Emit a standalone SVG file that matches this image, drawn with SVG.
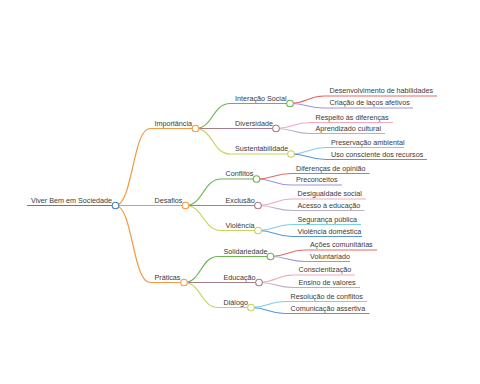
<svg xmlns="http://www.w3.org/2000/svg" width="480" height="384" viewBox="0 0 480 384">
<style>
text{font-family:"Liberation Sans",Arial,sans-serif;font-size:7.2px;fill:#3a3a3a}
path{fill:none;stroke-width:1.2}
circle{fill:#fff;stroke-width:1.1}
.b{stroke:#4a80bd}.o{stroke:#f39a45}.g{stroke:#6bb552}.m{stroke:#a67f86}.y{stroke:#c6d35d}
.r{stroke:#e46a6a}.p{stroke:#a293d9}.k{stroke:#f2a9b9}.l{stroke:#bcaec4}.c{stroke:#80cde6}.u{stroke:#5d97d3}
</style>
<rect width="480" height="384" fill="#fff"/>
<g id="connectors">
<path class="b" d="M27 205.5 L115.5 205.5"/>
<path class="o" d="M115.5 205.5 C132.75 205.5 132.75 128.5 150 128.5 L195.5 128.5"/>
<path class="o" d="M115.5 205.5 L185.5 205.5"/>
<path class="o" d="M115.5 205.5 C132.75 205.5 132.75 282.5 150 282.5 L184 282.5"/>
<path class="g" d="M195.5 128.5 C212.75 128.5 212.75 103.5 230 103.5 L290 103.5"/>
<path class="m" d="M195.5 128.5 L276 128.5"/>
<path class="y" d="M195.5 128.5 C212.75 128.5 212.75 154 230 154 L291 154"/>
<path class="r" d="M290 103.5 C307 103.5 307 96 324 96 L437 96"/>
<path class="p" d="M290 103.5 C307 103.5 307 108 324 108 L413 108"/>
<path class="k" d="M276 128.5 C293 128.5 293 122.5 310 122.5 L393 122.5"/>
<path class="l" d="M276 128.5 C293 128.5 293 133.5 310 133.5 L385 133.5"/>
<path class="c" d="M291 154 C308.5 154 308.5 147.5 326 147.5 L404 147.5"/>
<path class="u" d="M291 154 C308.5 154 308.5 159.5 326 159.5 L427 159.5"/>
<path class="g" d="M185.5 205.5 C203.25 205.5 203.25 179 221 179 L256.5 179"/>
<path class="m" d="M185.5 205.5 L258 205.5"/>
<path class="y" d="M185.5 205.5 C203.25 205.5 203.25 230.5 221 230.5 L258 230.5"/>
<path class="r" d="M256.5 179 C273.75 179 273.75 173.5 291 173.5 L369.5 173.5"/>
<path class="p" d="M256.5 179 C273.75 179 273.75 185 291 185 L342 185"/>
<path class="k" d="M258 205.5 C275 205.5 275 199 292 199 L366 199"/>
<path class="l" d="M258 205.5 C275 205.5 275 210.5 292 210.5 L364.5 210.5"/>
<path class="c" d="M258 230.5 C275 230.5 275 224.5 292 224.5 L361 224.5"/>
<path class="u" d="M258 230.5 C275 230.5 275 236.5 292 236.5 L362 236.5"/>
<path class="g" d="M184 282.5 C201 282.5 201 256.5 218 256.5 L270.5 256.5"/>
<path class="m" d="M184 282.5 L259 282.5"/>
<path class="y" d="M184 282.5 C201 282.5 201 307.5 218 307.5 L251 307.5"/>
<path class="r" d="M270.5 256.5 C287.75 256.5 287.75 250 305 250 L377 250"/>
<path class="p" d="M270.5 256.5 C287.75 256.5 287.75 261.5 305 261.5 L350 261.5"/>
<path class="k" d="M259 282.5 C276 282.5 276 275 293 275 L355 275"/>
<path class="l" d="M259 282.5 C276 282.5 276 287.5 293 287.5 L360 287.5"/>
<path class="c" d="M251 307.5 C268 307.5 268 301.5 285 301.5 L367 301.5"/>
<path class="u" d="M251 307.5 C268 307.5 268 313.5 285 313.5 L369.5 313.5"/>
</g>
<g id="root"><text x="31" y="202.5">Viver Bem em Sociedade</text><circle class="b" cx="115.5" cy="205.5" r="3.3"/></g>
<g id="importancia"><text x="154.5" y="125.5">Importância</text><circle class="o" cx="195.5" cy="128.5" r="3.3"/></g>
<g id="desafios"><text x="154.5" y="202.5">Desafios</text><circle class="o" cx="185.5" cy="205.5" r="3.3"/></g>
<g id="praticas"><text x="154.5" y="279.5">Práticas</text><circle class="o" cx="184" cy="282.5" r="3.3"/></g>
<g id="interacao"><text x="235" y="100.5">Interação Social</text><circle class="g" cx="290" cy="103.5" r="3.3"/></g>
<g id="diversidade"><text x="235" y="125.5">Diversidade</text><circle class="m" cx="276" cy="128.5" r="3.3"/></g>
<g id="sustentabilidade"><text x="235" y="151">Sustentabilidade</text><circle class="y" cx="291" cy="154" r="3.3"/></g>
<g id="conflitos"><text x="225.5" y="176">Conflitos</text><circle class="g" cx="256.5" cy="179" r="3.3"/></g>
<g id="exclusao"><text x="225.5" y="202.5">Exclusão</text><circle class="m" cx="258" cy="205.5" r="3.3"/></g>
<g id="violencia"><text x="225.5" y="227.5">Violência</text><circle class="y" cx="258" cy="230.5" r="3.3"/></g>
<g id="solidariedade"><text x="223.5" y="253.5">Solidariedade</text><circle class="g" cx="270.5" cy="256.5" r="3.3"/></g>
<g id="educacao"><text x="223.5" y="279.5">Educação</text><circle class="m" cx="259" cy="282.5" r="3.3"/></g>
<g id="dialogo"><text x="223.5" y="304.5">Diálogo</text><circle class="y" cx="251" cy="307.5" r="3.3"/></g>
<g id="l1"><text x="329.5" y="93">Desenvolvimento de habilidades</text></g>
<g id="l2"><text x="329.5" y="105">Criação de laços afetivos</text></g>
<g id="l3"><text x="315.5" y="119.5">Respeito às diferenças</text></g>
<g id="l4"><text x="315.5" y="130.5">Aprendizado cultural</text></g>
<g id="l5"><text x="331" y="144.5">Preservação ambiental</text></g>
<g id="l6"><text x="331" y="156.5">Uso consciente dos recursos</text></g>
<g id="l7"><text x="296" y="170.5">Diferenças de opinião</text></g>
<g id="l8"><text x="296" y="182">Preconceitos</text></g>
<g id="l9"><text x="297.5" y="196">Desigualdade social</text></g>
<g id="l10"><text x="297.5" y="207.5">Acesso à educação</text></g>
<g id="l11"><text x="297.5" y="221.5">Segurança pública</text></g>
<g id="l12"><text x="297.5" y="233.5">Violência doméstica</text></g>
<g id="l13"><text x="310" y="247">Ações comunitárias</text></g>
<g id="l14"><text x="310" y="258.5">Voluntariado</text></g>
<g id="l15"><text x="298.5" y="272">Conscientização</text></g>
<g id="l16"><text x="298.5" y="284.5">Ensino de valores</text></g>
<g id="l17"><text x="290.5" y="298.5">Resolução de conflitos</text></g>
<g id="l18"><text x="290.5" y="310.5">Comunicação assertiva</text></g>
</svg>
